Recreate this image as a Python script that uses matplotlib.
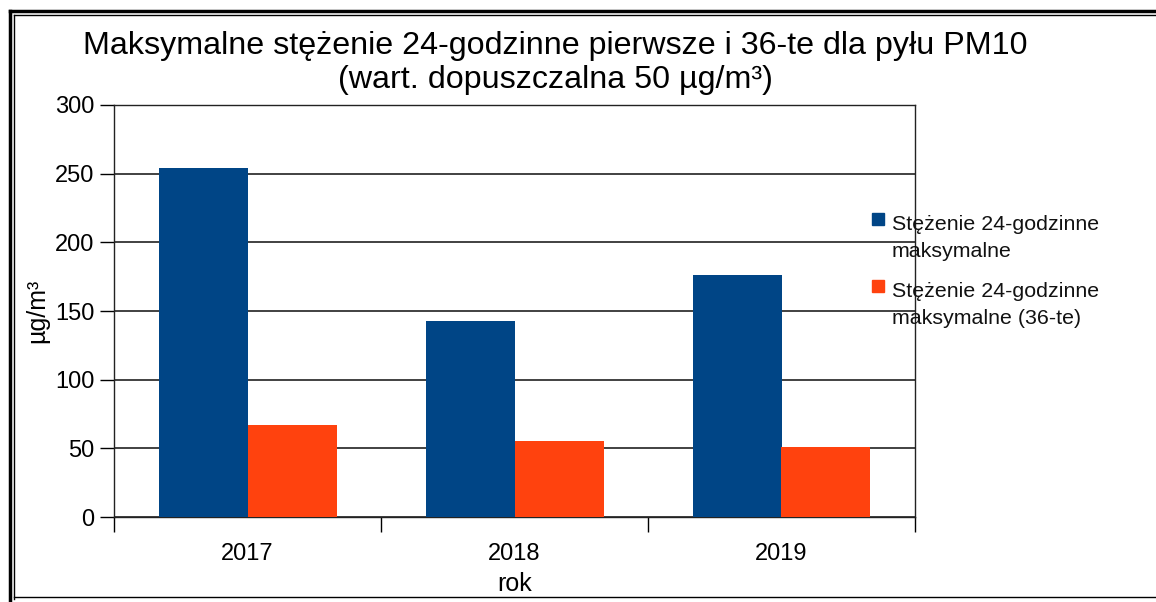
import numpy as np
import matplotlib.pyplot as plt
from matplotlib.lines import Line2D
from matplotlib.patches import Rectangle

plt.rcParams['font.family'] = ['Liberation Sans', 'DejaVu Sans']

years = ['2017', '2018', '2019']
max_24h = [254, 143, 176]
max_36th = [67, 55, 51]
series_names = ['Stężenie 24-godzinne\nmaksymalne',
                'Stężenie 24-godzinne\nmaksymalne (36-te)']
colors = ['#004586', '#ff420e']
title = 'Maksymalne stężenie 24-godzinne pierwsze i 36-te dla pyłu PM10\n(wart. dopuszczalna 50 µg/m³)'

fig = plt.figure(figsize=(11.56, 6.02), dpi=100)
ax = fig.add_axes([114/1156, 1 - 517/602, (915 - 114)/1156, (517 - 105)/602])

x = np.arange(len(years))
w = 1/3
ax.bar(x - w/2, max_24h, w, color=colors[0], zorder=3)
ax.bar(x + w/2, max_36th, w, color=colors[1], zorder=3)

ax.set_xlim(-0.5, len(years) - 0.5)
ax.set_ylim(0, 300)
ax.set_yticks(range(0, 301, 50))
ax.set_xticks(x)
ax.set_xticklabels(years)
ax.set_xticks(np.arange(-0.5, len(years)), minor=True)
ax.tick_params(axis='x', which='major', length=0, labelsize=17, pad=19)
ax.tick_params(axis='x', which='minor', length=11, width=1, direction='out')
ax.tick_params(axis='y', length=10, width=1, direction='out', labelsize=17, pad=4)
ax.yaxis.grid(True, color='#333333', lw=1.3, zorder=1)
for s in ax.spines.values():
    s.set_color('#222222')
    s.set_linewidth(1.0)

ax.set_ylabel('µg/m³', fontsize=18, labelpad=4)
ax.set_xlabel('rok', fontsize=18, labelpad=5)

fig.text(555/1156, 1 - 63/602, title, ha='center', va='center',
         fontsize=23.2, linespacing=1.18)

# legend drawn by hand so the square sits on the first line
for i, (name, c) in enumerate(zip(series_names, colors)):
    ytop = 213 + i * 67
    fig.add_artist(Rectangle((872/1156, 1 - (ytop + 12)/602), 12/1156, 12/602,
                             transform=fig.transFigure, color=c))
    fig.text(892/1156, 1 - (ytop + 2)/602, name, ha='left', va='top',
             fontsize=15.4, linespacing=1.5, color='#111111')

# outer frame
fig.add_artist(Line2D([10/1156, 10/1156], [0, 1 - 11/602], transform=fig.transFigure,
                      color='black', lw=2.5))
fig.add_artist(Line2D([10/1156, 1], [1 - 11/602, 1 - 11/602], transform=fig.transFigure,
                      color='black', lw=2.5))
fig.add_artist(Line2D([14/1156, 14/1156], [3/602, 1 - 15/602], transform=fig.transFigure,
                      color='black', lw=1))
fig.add_artist(Line2D([14/1156, 1], [1 - 15/602, 1 - 15/602], transform=fig.transFigure,
                      color='black', lw=1))
fig.add_artist(Line2D([14/1156, 1], [5/602, 5/602], transform=fig.transFigure,
                      color='black', lw=1))

fig.savefig('out.png', dpi=100)
